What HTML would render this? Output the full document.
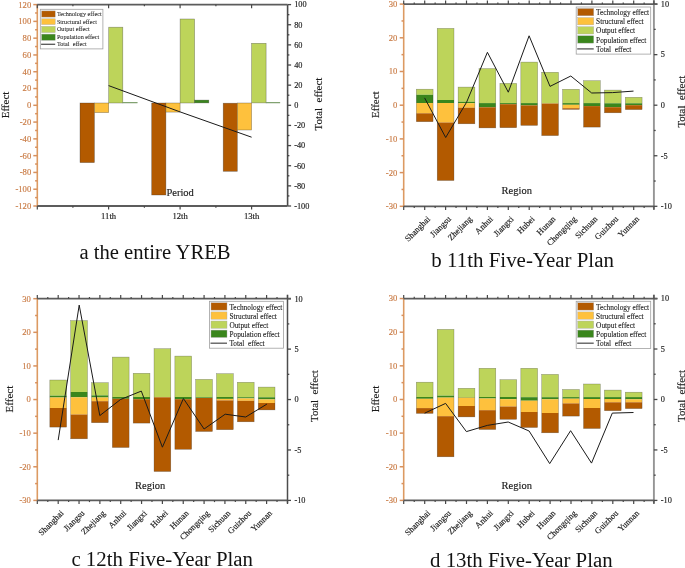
<!DOCTYPE html>
<html><head><meta charset="utf-8"><title>Decomposition charts</title>
<style>html,body{margin:0;padding:0;background:#fff;}body{width:685px;height:568px;overflow:hidden;}svg{display:block;font-family:"Liberation Serif", serif;filter:blur(0.35px);}</style>
</head><body>
<svg width="685" height="568" viewBox="0 0 685 568">
<rect x="0" y="0" width="685" height="568" fill="#fff"/>
<rect x="80" y="103" width="14.4" height="59.6" fill="#b35a00" stroke="rgba(50,50,50,0.5)" stroke-width="0.6"/>
<rect x="94.4" y="103" width="14.3" height="9.6" fill="#fec13d" stroke="rgba(50,50,50,0.5)" stroke-width="0.6"/>
<rect x="108.7" y="27.2" width="14.1" height="75.8" fill="#bdd45a" stroke="rgba(50,50,50,0.5)" stroke-width="0.6"/>
<rect x="122.8" y="102.4" width="14.4" height="0.6" fill="#3a861c" stroke="#7f9c70" stroke-width="0.5"/>
<rect x="151.7" y="103" width="14.2" height="92" fill="#b35a00" stroke="rgba(50,50,50,0.5)" stroke-width="0.6"/>
<rect x="165.9" y="103" width="14.2" height="9.1" fill="#fec13d" stroke="rgba(50,50,50,0.5)" stroke-width="0.6"/>
<rect x="180.1" y="19" width="14.5" height="84" fill="#bdd45a" stroke="rgba(50,50,50,0.5)" stroke-width="0.6"/>
<rect x="194.6" y="100.1" width="14.2" height="2.8" fill="#3a861c" stroke="rgba(50,50,50,0.5)" stroke-width="0.6"/>
<rect x="223.2" y="103.2" width="14.1" height="68.1" fill="#b35a00" stroke="rgba(50,50,50,0.5)" stroke-width="0.6"/>
<rect x="237.3" y="103" width="14.3" height="27" fill="#fec13d" stroke="rgba(50,50,50,0.5)" stroke-width="0.6"/>
<rect x="251.6" y="43.3" width="14.5" height="59.6" fill="#bdd45a" stroke="rgba(50,50,50,0.5)" stroke-width="0.6"/>
<rect x="266.1" y="102.4" width="13.8" height="0.6" fill="#3a861c" stroke="#7f9c70" stroke-width="0.5"/>
<polyline points="108.6,85.6 180.1,111.9 251.6,137.2" fill="none" stroke="#1a1a1a" stroke-width="1.0" stroke-linejoin="miter"/>
<line x1="37.3" y1="4.6" x2="37.3" y2="206" stroke="#dc9a62" stroke-width="1.6"/>
<line x1="33.3" y1="206" x2="37.3" y2="206" stroke="#d8915e" stroke-width="1.5"/>
<line x1="35.1" y1="197.61" x2="37.3" y2="197.61" stroke="#d8915e" stroke-width="1.5"/>
<line x1="33.3" y1="189.22" x2="37.3" y2="189.22" stroke="#d8915e" stroke-width="1.5"/>
<line x1="35.1" y1="180.82" x2="37.3" y2="180.82" stroke="#d8915e" stroke-width="1.5"/>
<line x1="33.3" y1="172.43" x2="37.3" y2="172.43" stroke="#d8915e" stroke-width="1.5"/>
<line x1="35.1" y1="164.04" x2="37.3" y2="164.04" stroke="#d8915e" stroke-width="1.5"/>
<line x1="33.3" y1="155.65" x2="37.3" y2="155.65" stroke="#d8915e" stroke-width="1.5"/>
<line x1="35.1" y1="147.26" x2="37.3" y2="147.26" stroke="#d8915e" stroke-width="1.5"/>
<line x1="33.3" y1="138.87" x2="37.3" y2="138.87" stroke="#d8915e" stroke-width="1.5"/>
<line x1="35.1" y1="130.47" x2="37.3" y2="130.47" stroke="#d8915e" stroke-width="1.5"/>
<line x1="33.3" y1="122.08" x2="37.3" y2="122.08" stroke="#d8915e" stroke-width="1.5"/>
<line x1="35.1" y1="113.69" x2="37.3" y2="113.69" stroke="#d8915e" stroke-width="1.5"/>
<line x1="33.3" y1="105.3" x2="37.3" y2="105.3" stroke="#d8915e" stroke-width="1.5"/>
<line x1="35.1" y1="96.91" x2="37.3" y2="96.91" stroke="#d8915e" stroke-width="1.5"/>
<line x1="33.3" y1="88.52" x2="37.3" y2="88.52" stroke="#d8915e" stroke-width="1.5"/>
<line x1="35.1" y1="80.12" x2="37.3" y2="80.12" stroke="#d8915e" stroke-width="1.5"/>
<line x1="33.3" y1="71.73" x2="37.3" y2="71.73" stroke="#d8915e" stroke-width="1.5"/>
<line x1="35.1" y1="63.34" x2="37.3" y2="63.34" stroke="#d8915e" stroke-width="1.5"/>
<line x1="33.3" y1="54.95" x2="37.3" y2="54.95" stroke="#d8915e" stroke-width="1.5"/>
<line x1="35.1" y1="46.56" x2="37.3" y2="46.56" stroke="#d8915e" stroke-width="1.5"/>
<line x1="33.3" y1="38.17" x2="37.3" y2="38.17" stroke="#d8915e" stroke-width="1.5"/>
<line x1="35.1" y1="29.77" x2="37.3" y2="29.77" stroke="#d8915e" stroke-width="1.5"/>
<line x1="33.3" y1="21.38" x2="37.3" y2="21.38" stroke="#d8915e" stroke-width="1.5"/>
<line x1="35.1" y1="12.99" x2="37.3" y2="12.99" stroke="#d8915e" stroke-width="1.5"/>
<line x1="33.3" y1="4.6" x2="37.3" y2="4.6" stroke="#d8915e" stroke-width="1.5"/>
<line x1="287.6" y1="4.6" x2="287.6" y2="206" stroke="#4a4a4a" stroke-width="1.6"/>
<line x1="287.6" y1="206" x2="291.1" y2="206" stroke="#484848" stroke-width="1.3"/>
<line x1="287.6" y1="195.93" x2="289.4" y2="195.93" stroke="#484848" stroke-width="1.3"/>
<line x1="287.6" y1="185.86" x2="291.1" y2="185.86" stroke="#484848" stroke-width="1.3"/>
<line x1="287.6" y1="175.79" x2="289.4" y2="175.79" stroke="#484848" stroke-width="1.3"/>
<line x1="287.6" y1="165.72" x2="291.1" y2="165.72" stroke="#484848" stroke-width="1.3"/>
<line x1="287.6" y1="155.65" x2="289.4" y2="155.65" stroke="#484848" stroke-width="1.3"/>
<line x1="287.6" y1="145.58" x2="291.1" y2="145.58" stroke="#484848" stroke-width="1.3"/>
<line x1="287.6" y1="135.51" x2="289.4" y2="135.51" stroke="#484848" stroke-width="1.3"/>
<line x1="287.6" y1="125.44" x2="291.1" y2="125.44" stroke="#484848" stroke-width="1.3"/>
<line x1="287.6" y1="115.37" x2="289.4" y2="115.37" stroke="#484848" stroke-width="1.3"/>
<line x1="287.6" y1="105.3" x2="291.1" y2="105.3" stroke="#484848" stroke-width="1.3"/>
<line x1="287.6" y1="95.23" x2="289.4" y2="95.23" stroke="#484848" stroke-width="1.3"/>
<line x1="287.6" y1="85.16" x2="291.1" y2="85.16" stroke="#484848" stroke-width="1.3"/>
<line x1="287.6" y1="75.09" x2="289.4" y2="75.09" stroke="#484848" stroke-width="1.3"/>
<line x1="287.6" y1="65.02" x2="291.1" y2="65.02" stroke="#484848" stroke-width="1.3"/>
<line x1="287.6" y1="54.95" x2="289.4" y2="54.95" stroke="#484848" stroke-width="1.3"/>
<line x1="287.6" y1="44.88" x2="291.1" y2="44.88" stroke="#484848" stroke-width="1.3"/>
<line x1="287.6" y1="34.81" x2="289.4" y2="34.81" stroke="#484848" stroke-width="1.3"/>
<line x1="287.6" y1="24.74" x2="291.1" y2="24.74" stroke="#484848" stroke-width="1.3"/>
<line x1="287.6" y1="14.67" x2="289.4" y2="14.67" stroke="#484848" stroke-width="1.3"/>
<line x1="287.6" y1="4.6" x2="291.1" y2="4.6" stroke="#484848" stroke-width="1.3"/>
<line x1="37.3" y1="4.6" x2="287.6" y2="4.6" stroke="#5c5c5c" stroke-width="1.8"/>
<line x1="37.3" y1="4.6" x2="37.3" y2="8.2" stroke="#484848" stroke-width="1.2"/>
<line x1="108.6" y1="4.6" x2="108.6" y2="8.2" stroke="#484848" stroke-width="1.2"/>
<line x1="180.1" y1="4.6" x2="180.1" y2="8.2" stroke="#484848" stroke-width="1.2"/>
<line x1="251.6" y1="4.6" x2="251.6" y2="8.2" stroke="#484848" stroke-width="1.2"/>
<line x1="72.9" y1="4.6" x2="72.9" y2="6.3" stroke="#484848" stroke-width="1.2"/>
<line x1="144.4" y1="4.6" x2="144.4" y2="6.3" stroke="#484848" stroke-width="1.2"/>
<line x1="215.9" y1="4.6" x2="215.9" y2="6.3" stroke="#484848" stroke-width="1.2"/>
<line x1="37.3" y1="206" x2="287.6" y2="206" stroke="#5c5c5c" stroke-width="1.8"/>
<line x1="37.3" y1="206" x2="37.3" y2="209.6" stroke="#484848" stroke-width="1.2"/>
<line x1="108.6" y1="206" x2="108.6" y2="209.6" stroke="#484848" stroke-width="1.2"/>
<line x1="180.1" y1="206" x2="180.1" y2="209.6" stroke="#484848" stroke-width="1.2"/>
<line x1="251.6" y1="206" x2="251.6" y2="209.6" stroke="#484848" stroke-width="1.2"/>
<line x1="72.9" y1="206" x2="72.9" y2="207.7" stroke="#484848" stroke-width="1.2"/>
<line x1="144.4" y1="206" x2="144.4" y2="207.7" stroke="#484848" stroke-width="1.2"/>
<line x1="215.9" y1="206" x2="215.9" y2="207.7" stroke="#484848" stroke-width="1.2"/>
<rect x="40.3" y="9.3" width="62.6" height="39.6" fill="#ffffff" stroke="#a0a0a0" stroke-width="0.8"/>
<rect x="41.6" y="10.9" width="13.6" height="6.2" fill="#b35a00" stroke="#a8a8a8" stroke-width="0.4"/>
<rect x="41.6" y="18.8" width="13.6" height="5.8" fill="#fec13d" stroke="#a8a8a8" stroke-width="0.4"/>
<rect x="41.6" y="26.3" width="13.6" height="6.3" fill="#bdd45a" stroke="#a8a8a8" stroke-width="0.4"/>
<rect x="41.6" y="34.1" width="13.6" height="6.2" fill="#3a861c" stroke="#a8a8a8" stroke-width="0.4"/>
<line x1="41.1" y1="44.3" x2="55.2" y2="44.3" stroke="#555" stroke-width="1.3"/>
<rect x="416.32" y="89.2" width="16.75" height="5.6" fill="#bdd45a" stroke="none" stroke-width="0"/>
<rect x="416.32" y="94.8" width="16.75" height="8.2" fill="#3a861c" stroke="none" stroke-width="0"/>
<rect x="416.32" y="103" width="16.75" height="10.3" fill="#fec13d" stroke="none" stroke-width="0"/>
<rect x="416.32" y="113.3" width="16.75" height="8.4" fill="#b35a00" stroke="none" stroke-width="0"/>
<rect x="416.32" y="89.2" width="16.75" height="32.5" fill="none" stroke="rgba(50,50,50,0.5)" stroke-width="0.5"/>
<rect x="437.22" y="28.4" width="16.75" height="71.6" fill="#bdd45a" stroke="none" stroke-width="0"/>
<rect x="437.22" y="100" width="16.75" height="3" fill="#3a861c" stroke="none" stroke-width="0"/>
<rect x="437.22" y="103" width="16.75" height="19.5" fill="#fec13d" stroke="none" stroke-width="0"/>
<rect x="437.22" y="122.5" width="16.75" height="58" fill="#b35a00" stroke="none" stroke-width="0"/>
<rect x="437.22" y="28.4" width="16.75" height="152.1" fill="none" stroke="rgba(50,50,50,0.5)" stroke-width="0.5"/>
<rect x="458.12" y="87.1" width="16.75" height="14.7" fill="#bdd45a" stroke="none" stroke-width="0"/>
<rect x="458.12" y="101.8" width="16.75" height="1.4" fill="#3a861c" stroke="none" stroke-width="0"/>
<rect x="458.12" y="103.2" width="16.75" height="4.5" fill="#fec13d" stroke="none" stroke-width="0"/>
<rect x="458.12" y="107.7" width="16.75" height="16.1" fill="#b35a00" stroke="none" stroke-width="0"/>
<rect x="458.12" y="87.1" width="16.75" height="36.7" fill="none" stroke="rgba(50,50,50,0.5)" stroke-width="0.5"/>
<rect x="479.02" y="68.6" width="16.75" height="34.5" fill="#bdd45a" stroke="none" stroke-width="0"/>
<rect x="479.02" y="103.1" width="16.75" height="4.2" fill="#3a861c" stroke="none" stroke-width="0"/>
<rect x="479.02" y="107.3" width="16.75" height="20.6" fill="#b35a00" stroke="none" stroke-width="0"/>
<rect x="479.02" y="68.6" width="16.75" height="59.3" fill="none" stroke="rgba(50,50,50,0.5)" stroke-width="0.5"/>
<rect x="499.92" y="83.4" width="16.75" height="19.7" fill="#bdd45a" stroke="none" stroke-width="0"/>
<rect x="499.92" y="103.1" width="16.75" height="1.1" fill="#3a861c" stroke="none" stroke-width="0"/>
<rect x="499.92" y="104.2" width="16.75" height="23.5" fill="#b35a00" stroke="none" stroke-width="0"/>
<rect x="499.92" y="83.4" width="16.75" height="44.3" fill="none" stroke="rgba(50,50,50,0.5)" stroke-width="0.5"/>
<rect x="520.83" y="62.1" width="16.75" height="41" fill="#bdd45a" stroke="none" stroke-width="0"/>
<rect x="520.83" y="103.1" width="16.75" height="2.3" fill="#3a861c" stroke="none" stroke-width="0"/>
<rect x="520.83" y="105.4" width="16.75" height="20" fill="#b35a00" stroke="none" stroke-width="0"/>
<rect x="520.83" y="62.1" width="16.75" height="63.3" fill="none" stroke="rgba(50,50,50,0.5)" stroke-width="0.5"/>
<rect x="541.73" y="72.3" width="16.75" height="31.2" fill="#bdd45a" stroke="none" stroke-width="0"/>
<rect x="541.73" y="103.5" width="16.75" height="32.1" fill="#b35a00" stroke="none" stroke-width="0"/>
<rect x="541.73" y="72.3" width="16.75" height="63.3" fill="none" stroke="rgba(50,50,50,0.5)" stroke-width="0.5"/>
<rect x="562.62" y="89.3" width="16.75" height="13.8" fill="#bdd45a" stroke="none" stroke-width="0"/>
<rect x="562.62" y="103.1" width="16.75" height="1.7" fill="#3a861c" stroke="none" stroke-width="0"/>
<rect x="562.62" y="104.8" width="16.75" height="3.4" fill="#fec13d" stroke="none" stroke-width="0"/>
<rect x="562.62" y="108.2" width="16.75" height="1.2" fill="#b35a00" stroke="none" stroke-width="0"/>
<rect x="562.62" y="89.3" width="16.75" height="20.1" fill="none" stroke="rgba(50,50,50,0.5)" stroke-width="0.5"/>
<rect x="583.52" y="80.7" width="16.75" height="22.4" fill="#bdd45a" stroke="none" stroke-width="0"/>
<rect x="583.52" y="103.1" width="16.75" height="3" fill="#3a861c" stroke="none" stroke-width="0"/>
<rect x="583.52" y="106.1" width="16.75" height="21" fill="#b35a00" stroke="none" stroke-width="0"/>
<rect x="583.52" y="80.7" width="16.75" height="46.4" fill="none" stroke="rgba(50,50,50,0.5)" stroke-width="0.5"/>
<rect x="604.42" y="90.1" width="16.75" height="13.2" fill="#bdd45a" stroke="none" stroke-width="0"/>
<rect x="604.42" y="103.3" width="16.75" height="3.9" fill="#3a861c" stroke="none" stroke-width="0"/>
<rect x="604.42" y="107.2" width="16.75" height="5.6" fill="#b35a00" stroke="none" stroke-width="0"/>
<rect x="604.42" y="90.1" width="16.75" height="22.7" fill="none" stroke="rgba(50,50,50,0.5)" stroke-width="0.5"/>
<rect x="625.33" y="97.3" width="16.75" height="6" fill="#bdd45a" stroke="none" stroke-width="0"/>
<rect x="625.33" y="103.3" width="16.75" height="1.9" fill="#3a861c" stroke="none" stroke-width="0"/>
<rect x="625.33" y="105.2" width="16.75" height="4.4" fill="#b35a00" stroke="none" stroke-width="0"/>
<rect x="625.33" y="97.3" width="16.75" height="12.3" fill="none" stroke="rgba(50,50,50,0.5)" stroke-width="0.5"/>
<polyline points="424.6,97.9 445.7,137.5 466.6,102.2 487.4,52.3 508.3,92.2 529.1,35.8 550,86.4 570.8,76 591.7,93 612.6,92.6 633.5,91.1" fill="none" stroke="#1a1a1a" stroke-width="1.0" stroke-linejoin="miter"/>
<line x1="403.7" y1="4.1" x2="403.7" y2="206.3" stroke="#dc9a62" stroke-width="1.6"/>
<line x1="399.7" y1="206.3" x2="403.7" y2="206.3" stroke="#d8915e" stroke-width="1.5"/>
<line x1="401.5" y1="189.45" x2="403.7" y2="189.45" stroke="#d8915e" stroke-width="1.5"/>
<line x1="399.7" y1="172.6" x2="403.7" y2="172.6" stroke="#d8915e" stroke-width="1.5"/>
<line x1="401.5" y1="155.75" x2="403.7" y2="155.75" stroke="#d8915e" stroke-width="1.5"/>
<line x1="399.7" y1="138.9" x2="403.7" y2="138.9" stroke="#d8915e" stroke-width="1.5"/>
<line x1="401.5" y1="122.05" x2="403.7" y2="122.05" stroke="#d8915e" stroke-width="1.5"/>
<line x1="399.7" y1="105.2" x2="403.7" y2="105.2" stroke="#d8915e" stroke-width="1.5"/>
<line x1="401.5" y1="88.35" x2="403.7" y2="88.35" stroke="#d8915e" stroke-width="1.5"/>
<line x1="399.7" y1="71.5" x2="403.7" y2="71.5" stroke="#d8915e" stroke-width="1.5"/>
<line x1="401.5" y1="54.65" x2="403.7" y2="54.65" stroke="#d8915e" stroke-width="1.5"/>
<line x1="399.7" y1="37.8" x2="403.7" y2="37.8" stroke="#d8915e" stroke-width="1.5"/>
<line x1="401.5" y1="20.95" x2="403.7" y2="20.95" stroke="#d8915e" stroke-width="1.5"/>
<line x1="399.7" y1="4.1" x2="403.7" y2="4.1" stroke="#d8915e" stroke-width="1.5"/>
<line x1="653.9" y1="0.1" x2="653.9" y2="209.3" stroke="#959595" stroke-width="1.9"/>
<line x1="653.9" y1="206.3" x2="657.4" y2="206.3" stroke="#484848" stroke-width="1.3"/>
<line x1="653.9" y1="181.03" x2="655.7" y2="181.03" stroke="#484848" stroke-width="1.3"/>
<line x1="653.9" y1="155.75" x2="657.4" y2="155.75" stroke="#484848" stroke-width="1.3"/>
<line x1="653.9" y1="130.47" x2="655.7" y2="130.47" stroke="#484848" stroke-width="1.3"/>
<line x1="653.9" y1="105.2" x2="657.4" y2="105.2" stroke="#484848" stroke-width="1.3"/>
<line x1="653.9" y1="79.92" x2="655.7" y2="79.92" stroke="#484848" stroke-width="1.3"/>
<line x1="653.9" y1="54.65" x2="657.4" y2="54.65" stroke="#484848" stroke-width="1.3"/>
<line x1="653.9" y1="29.38" x2="655.7" y2="29.38" stroke="#484848" stroke-width="1.3"/>
<line x1="653.9" y1="4.1" x2="657.4" y2="4.1" stroke="#484848" stroke-width="1.3"/>
<line x1="403.7" y1="4.1" x2="657.4" y2="4.1" stroke="#5c5c5c" stroke-width="1.8"/>
<line x1="403.7" y1="4.1" x2="403.7" y2="0.5" stroke="#484848" stroke-width="1.2"/>
<line x1="424.7" y1="4.1" x2="424.7" y2="0.5" stroke="#484848" stroke-width="1.2"/>
<line x1="445.6" y1="4.1" x2="445.6" y2="0.5" stroke="#484848" stroke-width="1.2"/>
<line x1="466.5" y1="4.1" x2="466.5" y2="0.5" stroke="#484848" stroke-width="1.2"/>
<line x1="487.4" y1="4.1" x2="487.4" y2="0.5" stroke="#484848" stroke-width="1.2"/>
<line x1="508.3" y1="4.1" x2="508.3" y2="0.5" stroke="#484848" stroke-width="1.2"/>
<line x1="529.2" y1="4.1" x2="529.2" y2="0.5" stroke="#484848" stroke-width="1.2"/>
<line x1="550.1" y1="4.1" x2="550.1" y2="0.5" stroke="#484848" stroke-width="1.2"/>
<line x1="571" y1="4.1" x2="571" y2="0.5" stroke="#484848" stroke-width="1.2"/>
<line x1="591.9" y1="4.1" x2="591.9" y2="0.5" stroke="#484848" stroke-width="1.2"/>
<line x1="612.8" y1="4.1" x2="612.8" y2="0.5" stroke="#484848" stroke-width="1.2"/>
<line x1="633.7" y1="4.1" x2="633.7" y2="0.5" stroke="#484848" stroke-width="1.2"/>
<line x1="653.9" y1="4.1" x2="653.9" y2="0.5" stroke="#484848" stroke-width="1.2"/>
<line x1="414.25" y1="4.1" x2="414.25" y2="2.4" stroke="#484848" stroke-width="1.2"/>
<line x1="435.15" y1="4.1" x2="435.15" y2="2.4" stroke="#484848" stroke-width="1.2"/>
<line x1="456.05" y1="4.1" x2="456.05" y2="2.4" stroke="#484848" stroke-width="1.2"/>
<line x1="476.95" y1="4.1" x2="476.95" y2="2.4" stroke="#484848" stroke-width="1.2"/>
<line x1="497.85" y1="4.1" x2="497.85" y2="2.4" stroke="#484848" stroke-width="1.2"/>
<line x1="518.75" y1="4.1" x2="518.75" y2="2.4" stroke="#484848" stroke-width="1.2"/>
<line x1="539.65" y1="4.1" x2="539.65" y2="2.4" stroke="#484848" stroke-width="1.2"/>
<line x1="560.55" y1="4.1" x2="560.55" y2="2.4" stroke="#484848" stroke-width="1.2"/>
<line x1="581.45" y1="4.1" x2="581.45" y2="2.4" stroke="#484848" stroke-width="1.2"/>
<line x1="602.35" y1="4.1" x2="602.35" y2="2.4" stroke="#484848" stroke-width="1.2"/>
<line x1="623.25" y1="4.1" x2="623.25" y2="2.4" stroke="#484848" stroke-width="1.2"/>
<line x1="644.15" y1="4.1" x2="644.15" y2="2.4" stroke="#484848" stroke-width="1.2"/>
<line x1="403.7" y1="206.3" x2="653.9" y2="206.3" stroke="#5c5c5c" stroke-width="1.8"/>
<line x1="403.7" y1="206.3" x2="403.7" y2="209.9" stroke="#484848" stroke-width="1.2"/>
<line x1="424.7" y1="206.3" x2="424.7" y2="209.9" stroke="#484848" stroke-width="1.2"/>
<line x1="445.6" y1="206.3" x2="445.6" y2="209.9" stroke="#484848" stroke-width="1.2"/>
<line x1="466.5" y1="206.3" x2="466.5" y2="209.9" stroke="#484848" stroke-width="1.2"/>
<line x1="487.4" y1="206.3" x2="487.4" y2="209.9" stroke="#484848" stroke-width="1.2"/>
<line x1="508.3" y1="206.3" x2="508.3" y2="209.9" stroke="#484848" stroke-width="1.2"/>
<line x1="529.2" y1="206.3" x2="529.2" y2="209.9" stroke="#484848" stroke-width="1.2"/>
<line x1="550.1" y1="206.3" x2="550.1" y2="209.9" stroke="#484848" stroke-width="1.2"/>
<line x1="571" y1="206.3" x2="571" y2="209.9" stroke="#484848" stroke-width="1.2"/>
<line x1="591.9" y1="206.3" x2="591.9" y2="209.9" stroke="#484848" stroke-width="1.2"/>
<line x1="612.8" y1="206.3" x2="612.8" y2="209.9" stroke="#484848" stroke-width="1.2"/>
<line x1="633.7" y1="206.3" x2="633.7" y2="209.9" stroke="#484848" stroke-width="1.2"/>
<line x1="653.9" y1="206.3" x2="653.9" y2="209.9" stroke="#484848" stroke-width="1.2"/>
<line x1="414.25" y1="206.3" x2="414.25" y2="208" stroke="#484848" stroke-width="1.2"/>
<line x1="435.15" y1="206.3" x2="435.15" y2="208" stroke="#484848" stroke-width="1.2"/>
<line x1="456.05" y1="206.3" x2="456.05" y2="208" stroke="#484848" stroke-width="1.2"/>
<line x1="476.95" y1="206.3" x2="476.95" y2="208" stroke="#484848" stroke-width="1.2"/>
<line x1="497.85" y1="206.3" x2="497.85" y2="208" stroke="#484848" stroke-width="1.2"/>
<line x1="518.75" y1="206.3" x2="518.75" y2="208" stroke="#484848" stroke-width="1.2"/>
<line x1="539.65" y1="206.3" x2="539.65" y2="208" stroke="#484848" stroke-width="1.2"/>
<line x1="560.55" y1="206.3" x2="560.55" y2="208" stroke="#484848" stroke-width="1.2"/>
<line x1="581.45" y1="206.3" x2="581.45" y2="208" stroke="#484848" stroke-width="1.2"/>
<line x1="602.35" y1="206.3" x2="602.35" y2="208" stroke="#484848" stroke-width="1.2"/>
<line x1="623.25" y1="206.3" x2="623.25" y2="208" stroke="#484848" stroke-width="1.2"/>
<line x1="644.15" y1="206.3" x2="644.15" y2="208" stroke="#484848" stroke-width="1.2"/>
<rect x="576.2" y="7" width="74.5" height="47.1" fill="#ffffff" stroke="#a0a0a0" stroke-width="0.8"/>
<rect x="577.7" y="8.5" width="16" height="7.3" fill="#b35a00" stroke="#a8a8a8" stroke-width="0.4"/>
<rect x="577.7" y="17.6" width="16" height="7.3" fill="#fec13d" stroke="#a8a8a8" stroke-width="0.4"/>
<rect x="577.7" y="26.7" width="16" height="7.3" fill="#bdd45a" stroke="#a8a8a8" stroke-width="0.4"/>
<rect x="577.7" y="35.8" width="16" height="7.3" fill="#3a861c" stroke="#a8a8a8" stroke-width="0.4"/>
<line x1="577.2" y1="48.9" x2="593.7" y2="48.9" stroke="#555" stroke-width="1.3"/>
<rect x="49.83" y="380" width="16.75" height="15.7" fill="#bdd45a" stroke="none" stroke-width="0"/>
<rect x="49.83" y="395.7" width="16.75" height="1.8" fill="#3a861c" stroke="none" stroke-width="0"/>
<rect x="49.83" y="397.5" width="16.75" height="10.5" fill="#fec13d" stroke="none" stroke-width="0"/>
<rect x="49.83" y="408" width="16.75" height="19.1" fill="#b35a00" stroke="none" stroke-width="0"/>
<rect x="49.83" y="380" width="16.75" height="47.1" fill="none" stroke="rgba(50,50,50,0.5)" stroke-width="0.5"/>
<rect x="70.67" y="320.6" width="16.75" height="71.4" fill="#bdd45a" stroke="none" stroke-width="0"/>
<rect x="70.67" y="392" width="16.75" height="5.3" fill="#3a861c" stroke="none" stroke-width="0"/>
<rect x="70.67" y="397.3" width="16.75" height="17.2" fill="#fec13d" stroke="none" stroke-width="0"/>
<rect x="70.67" y="414.5" width="16.75" height="24.3" fill="#b35a00" stroke="none" stroke-width="0"/>
<rect x="70.67" y="320.6" width="16.75" height="118.2" fill="none" stroke="rgba(50,50,50,0.5)" stroke-width="0.5"/>
<rect x="91.5" y="382.7" width="16.75" height="12.7" fill="#bdd45a" stroke="none" stroke-width="0"/>
<rect x="91.5" y="395.4" width="16.75" height="2.1" fill="#3a861c" stroke="none" stroke-width="0"/>
<rect x="91.5" y="397.5" width="16.75" height="3.7" fill="#fec13d" stroke="none" stroke-width="0"/>
<rect x="91.5" y="401.2" width="16.75" height="21.5" fill="#b35a00" stroke="none" stroke-width="0"/>
<rect x="91.5" y="382.7" width="16.75" height="40" fill="none" stroke="rgba(50,50,50,0.5)" stroke-width="0.5"/>
<rect x="112.34" y="357.1" width="16.75" height="39.9" fill="#bdd45a" stroke="none" stroke-width="0"/>
<rect x="112.34" y="397" width="16.75" height="1.8" fill="#3a861c" stroke="none" stroke-width="0"/>
<rect x="112.34" y="398.8" width="16.75" height="48.7" fill="#b35a00" stroke="none" stroke-width="0"/>
<rect x="112.34" y="357.1" width="16.75" height="90.4" fill="none" stroke="rgba(50,50,50,0.5)" stroke-width="0.5"/>
<rect x="133.19" y="373.3" width="16.75" height="23.7" fill="#bdd45a" stroke="none" stroke-width="0"/>
<rect x="133.19" y="397" width="16.75" height="2.2" fill="#3a861c" stroke="none" stroke-width="0"/>
<rect x="133.19" y="399.2" width="16.75" height="23.9" fill="#b35a00" stroke="none" stroke-width="0"/>
<rect x="133.19" y="373.3" width="16.75" height="49.8" fill="none" stroke="rgba(50,50,50,0.5)" stroke-width="0.5"/>
<rect x="154.03" y="348.7" width="16.75" height="48.6" fill="#bdd45a" stroke="none" stroke-width="0"/>
<rect x="154.03" y="397.3" width="16.75" height="74.2" fill="#b35a00" stroke="none" stroke-width="0"/>
<rect x="154.03" y="348.7" width="16.75" height="122.8" fill="none" stroke="rgba(50,50,50,0.5)" stroke-width="0.5"/>
<rect x="174.87" y="356.1" width="16.75" height="40.9" fill="#bdd45a" stroke="none" stroke-width="0"/>
<rect x="174.87" y="397" width="16.75" height="2.2" fill="#3a861c" stroke="none" stroke-width="0"/>
<rect x="174.87" y="399.2" width="16.75" height="50.1" fill="#b35a00" stroke="none" stroke-width="0"/>
<rect x="174.87" y="356.1" width="16.75" height="93.2" fill="none" stroke="rgba(50,50,50,0.5)" stroke-width="0.5"/>
<rect x="195.7" y="379.4" width="16.75" height="17.9" fill="#bdd45a" stroke="none" stroke-width="0"/>
<rect x="195.7" y="397.3" width="16.75" height="0.7" fill="#3a861c" stroke="none" stroke-width="0"/>
<rect x="195.7" y="398" width="16.75" height="33.5" fill="#b35a00" stroke="none" stroke-width="0"/>
<rect x="195.7" y="379.4" width="16.75" height="52.1" fill="none" stroke="rgba(50,50,50,0.5)" stroke-width="0.5"/>
<rect x="216.55" y="373.7" width="16.75" height="23.3" fill="#bdd45a" stroke="none" stroke-width="0"/>
<rect x="216.55" y="397" width="16.75" height="1.9" fill="#3a861c" stroke="none" stroke-width="0"/>
<rect x="216.55" y="398.9" width="16.75" height="1.5" fill="#fec13d" stroke="none" stroke-width="0"/>
<rect x="216.55" y="400.4" width="16.75" height="29.3" fill="#b35a00" stroke="none" stroke-width="0"/>
<rect x="216.55" y="373.7" width="16.75" height="56" fill="none" stroke="rgba(50,50,50,0.5)" stroke-width="0.5"/>
<rect x="237.38" y="382.3" width="16.75" height="14.9" fill="#bdd45a" stroke="none" stroke-width="0"/>
<rect x="237.38" y="397.2" width="16.75" height="1.2" fill="#3a861c" stroke="none" stroke-width="0"/>
<rect x="237.38" y="398.4" width="16.75" height="2.4" fill="#fec13d" stroke="none" stroke-width="0"/>
<rect x="237.38" y="400.8" width="16.75" height="21" fill="#b35a00" stroke="none" stroke-width="0"/>
<rect x="237.38" y="382.3" width="16.75" height="39.5" fill="none" stroke="rgba(50,50,50,0.5)" stroke-width="0.5"/>
<rect x="258.23" y="387.1" width="16.75" height="10.2" fill="#bdd45a" stroke="none" stroke-width="0"/>
<rect x="258.23" y="397.3" width="16.75" height="2.1" fill="#3a861c" stroke="none" stroke-width="0"/>
<rect x="258.23" y="399.4" width="16.75" height="3.6" fill="#fec13d" stroke="none" stroke-width="0"/>
<rect x="258.23" y="403" width="16.75" height="6.9" fill="#b35a00" stroke="none" stroke-width="0"/>
<rect x="258.23" y="387.1" width="16.75" height="22.8" fill="none" stroke="rgba(50,50,50,0.5)" stroke-width="0.5"/>
<polyline points="58.2,440.1 79.2,305.1 99.8,415.6 120.5,399.5 141.3,391.1 162.4,447.2 183.4,398.5 204.1,429 225.2,414.2 245.7,417 266.9,404.1" fill="none" stroke="#1a1a1a" stroke-width="1.0" stroke-linejoin="miter"/>
<line x1="37.3" y1="298.7" x2="37.3" y2="500.4" stroke="#dc9a62" stroke-width="1.6"/>
<line x1="33.3" y1="500.4" x2="37.3" y2="500.4" stroke="#d8915e" stroke-width="1.5"/>
<line x1="35.1" y1="483.59" x2="37.3" y2="483.59" stroke="#d8915e" stroke-width="1.5"/>
<line x1="33.3" y1="466.78" x2="37.3" y2="466.78" stroke="#d8915e" stroke-width="1.5"/>
<line x1="35.1" y1="449.97" x2="37.3" y2="449.97" stroke="#d8915e" stroke-width="1.5"/>
<line x1="33.3" y1="433.17" x2="37.3" y2="433.17" stroke="#d8915e" stroke-width="1.5"/>
<line x1="35.1" y1="416.36" x2="37.3" y2="416.36" stroke="#d8915e" stroke-width="1.5"/>
<line x1="33.3" y1="399.55" x2="37.3" y2="399.55" stroke="#d8915e" stroke-width="1.5"/>
<line x1="35.1" y1="382.74" x2="37.3" y2="382.74" stroke="#d8915e" stroke-width="1.5"/>
<line x1="33.3" y1="365.93" x2="37.3" y2="365.93" stroke="#d8915e" stroke-width="1.5"/>
<line x1="35.1" y1="349.12" x2="37.3" y2="349.12" stroke="#d8915e" stroke-width="1.5"/>
<line x1="33.3" y1="332.32" x2="37.3" y2="332.32" stroke="#d8915e" stroke-width="1.5"/>
<line x1="35.1" y1="315.51" x2="37.3" y2="315.51" stroke="#d8915e" stroke-width="1.5"/>
<line x1="33.3" y1="298.7" x2="37.3" y2="298.7" stroke="#d8915e" stroke-width="1.5"/>
<line x1="287.5" y1="294.7" x2="287.5" y2="503.4" stroke="#4d4d4d" stroke-width="1.5"/>
<line x1="287.5" y1="500.4" x2="291" y2="500.4" stroke="#484848" stroke-width="1.3"/>
<line x1="287.5" y1="475.19" x2="289.3" y2="475.19" stroke="#484848" stroke-width="1.3"/>
<line x1="287.5" y1="449.97" x2="291" y2="449.97" stroke="#484848" stroke-width="1.3"/>
<line x1="287.5" y1="424.76" x2="289.3" y2="424.76" stroke="#484848" stroke-width="1.3"/>
<line x1="287.5" y1="399.55" x2="291" y2="399.55" stroke="#484848" stroke-width="1.3"/>
<line x1="287.5" y1="374.34" x2="289.3" y2="374.34" stroke="#484848" stroke-width="1.3"/>
<line x1="287.5" y1="349.12" x2="291" y2="349.12" stroke="#484848" stroke-width="1.3"/>
<line x1="287.5" y1="323.91" x2="289.3" y2="323.91" stroke="#484848" stroke-width="1.3"/>
<line x1="287.5" y1="298.7" x2="291" y2="298.7" stroke="#484848" stroke-width="1.3"/>
<line x1="37.3" y1="298.7" x2="291" y2="298.7" stroke="#5c5c5c" stroke-width="1.8"/>
<line x1="37.3" y1="298.7" x2="37.3" y2="295.1" stroke="#484848" stroke-width="1.2"/>
<line x1="58.2" y1="298.7" x2="58.2" y2="295.1" stroke="#484848" stroke-width="1.2"/>
<line x1="79.04" y1="298.7" x2="79.04" y2="295.1" stroke="#484848" stroke-width="1.2"/>
<line x1="99.88" y1="298.7" x2="99.88" y2="295.1" stroke="#484848" stroke-width="1.2"/>
<line x1="120.72" y1="298.7" x2="120.72" y2="295.1" stroke="#484848" stroke-width="1.2"/>
<line x1="141.56" y1="298.7" x2="141.56" y2="295.1" stroke="#484848" stroke-width="1.2"/>
<line x1="162.4" y1="298.7" x2="162.4" y2="295.1" stroke="#484848" stroke-width="1.2"/>
<line x1="183.24" y1="298.7" x2="183.24" y2="295.1" stroke="#484848" stroke-width="1.2"/>
<line x1="204.08" y1="298.7" x2="204.08" y2="295.1" stroke="#484848" stroke-width="1.2"/>
<line x1="224.92" y1="298.7" x2="224.92" y2="295.1" stroke="#484848" stroke-width="1.2"/>
<line x1="245.76" y1="298.7" x2="245.76" y2="295.1" stroke="#484848" stroke-width="1.2"/>
<line x1="266.6" y1="298.7" x2="266.6" y2="295.1" stroke="#484848" stroke-width="1.2"/>
<line x1="287.5" y1="298.7" x2="287.5" y2="295.1" stroke="#484848" stroke-width="1.2"/>
<line x1="47.78" y1="298.7" x2="47.78" y2="297" stroke="#484848" stroke-width="1.2"/>
<line x1="68.62" y1="298.7" x2="68.62" y2="297" stroke="#484848" stroke-width="1.2"/>
<line x1="89.46" y1="298.7" x2="89.46" y2="297" stroke="#484848" stroke-width="1.2"/>
<line x1="110.3" y1="298.7" x2="110.3" y2="297" stroke="#484848" stroke-width="1.2"/>
<line x1="131.14" y1="298.7" x2="131.14" y2="297" stroke="#484848" stroke-width="1.2"/>
<line x1="151.98" y1="298.7" x2="151.98" y2="297" stroke="#484848" stroke-width="1.2"/>
<line x1="172.82" y1="298.7" x2="172.82" y2="297" stroke="#484848" stroke-width="1.2"/>
<line x1="193.66" y1="298.7" x2="193.66" y2="297" stroke="#484848" stroke-width="1.2"/>
<line x1="214.5" y1="298.7" x2="214.5" y2="297" stroke="#484848" stroke-width="1.2"/>
<line x1="235.34" y1="298.7" x2="235.34" y2="297" stroke="#484848" stroke-width="1.2"/>
<line x1="256.18" y1="298.7" x2="256.18" y2="297" stroke="#484848" stroke-width="1.2"/>
<line x1="277.02" y1="298.7" x2="277.02" y2="297" stroke="#484848" stroke-width="1.2"/>
<line x1="37.3" y1="500.4" x2="287.5" y2="500.4" stroke="#5c5c5c" stroke-width="1.8"/>
<line x1="37.3" y1="500.4" x2="37.3" y2="504" stroke="#484848" stroke-width="1.2"/>
<line x1="58.2" y1="500.4" x2="58.2" y2="504" stroke="#484848" stroke-width="1.2"/>
<line x1="79.04" y1="500.4" x2="79.04" y2="504" stroke="#484848" stroke-width="1.2"/>
<line x1="99.88" y1="500.4" x2="99.88" y2="504" stroke="#484848" stroke-width="1.2"/>
<line x1="120.72" y1="500.4" x2="120.72" y2="504" stroke="#484848" stroke-width="1.2"/>
<line x1="141.56" y1="500.4" x2="141.56" y2="504" stroke="#484848" stroke-width="1.2"/>
<line x1="162.4" y1="500.4" x2="162.4" y2="504" stroke="#484848" stroke-width="1.2"/>
<line x1="183.24" y1="500.4" x2="183.24" y2="504" stroke="#484848" stroke-width="1.2"/>
<line x1="204.08" y1="500.4" x2="204.08" y2="504" stroke="#484848" stroke-width="1.2"/>
<line x1="224.92" y1="500.4" x2="224.92" y2="504" stroke="#484848" stroke-width="1.2"/>
<line x1="245.76" y1="500.4" x2="245.76" y2="504" stroke="#484848" stroke-width="1.2"/>
<line x1="266.6" y1="500.4" x2="266.6" y2="504" stroke="#484848" stroke-width="1.2"/>
<line x1="287.5" y1="500.4" x2="287.5" y2="504" stroke="#484848" stroke-width="1.2"/>
<line x1="47.78" y1="500.4" x2="47.78" y2="502.1" stroke="#484848" stroke-width="1.2"/>
<line x1="68.62" y1="500.4" x2="68.62" y2="502.1" stroke="#484848" stroke-width="1.2"/>
<line x1="89.46" y1="500.4" x2="89.46" y2="502.1" stroke="#484848" stroke-width="1.2"/>
<line x1="110.3" y1="500.4" x2="110.3" y2="502.1" stroke="#484848" stroke-width="1.2"/>
<line x1="131.14" y1="500.4" x2="131.14" y2="502.1" stroke="#484848" stroke-width="1.2"/>
<line x1="151.98" y1="500.4" x2="151.98" y2="502.1" stroke="#484848" stroke-width="1.2"/>
<line x1="172.82" y1="500.4" x2="172.82" y2="502.1" stroke="#484848" stroke-width="1.2"/>
<line x1="193.66" y1="500.4" x2="193.66" y2="502.1" stroke="#484848" stroke-width="1.2"/>
<line x1="214.5" y1="500.4" x2="214.5" y2="502.1" stroke="#484848" stroke-width="1.2"/>
<line x1="235.34" y1="500.4" x2="235.34" y2="502.1" stroke="#484848" stroke-width="1.2"/>
<line x1="256.18" y1="500.4" x2="256.18" y2="502.1" stroke="#484848" stroke-width="1.2"/>
<line x1="277.02" y1="500.4" x2="277.02" y2="502.1" stroke="#484848" stroke-width="1.2"/>
<rect x="209.5" y="301.3" width="73.9" height="46.9" fill="#ffffff" stroke="#a0a0a0" stroke-width="0.8"/>
<rect x="211" y="302.8" width="16" height="7.3" fill="#b35a00" stroke="#a8a8a8" stroke-width="0.4"/>
<rect x="211" y="311.9" width="16" height="7.3" fill="#fec13d" stroke="#a8a8a8" stroke-width="0.4"/>
<rect x="211" y="321" width="16" height="7.3" fill="#bdd45a" stroke="#a8a8a8" stroke-width="0.4"/>
<rect x="211" y="330.1" width="16" height="7.3" fill="#3a861c" stroke="#a8a8a8" stroke-width="0.4"/>
<line x1="210.5" y1="343.2" x2="227" y2="343.2" stroke="#555" stroke-width="1.3"/>
<rect x="416.32" y="382.2" width="16.75" height="14.8" fill="#bdd45a" stroke="none" stroke-width="0"/>
<rect x="416.32" y="397" width="16.75" height="1.8" fill="#3a861c" stroke="none" stroke-width="0"/>
<rect x="416.32" y="398.8" width="16.75" height="9.3" fill="#fec13d" stroke="none" stroke-width="0"/>
<rect x="416.32" y="408.1" width="16.75" height="5.3" fill="#b35a00" stroke="none" stroke-width="0"/>
<rect x="416.32" y="382.2" width="16.75" height="31.2" fill="none" stroke="rgba(50,50,50,0.5)" stroke-width="0.5"/>
<rect x="437.22" y="329.4" width="16.75" height="66.3" fill="#bdd45a" stroke="none" stroke-width="0"/>
<rect x="437.22" y="395.7" width="16.75" height="1.9" fill="#3a861c" stroke="none" stroke-width="0"/>
<rect x="437.22" y="397.6" width="16.75" height="18.6" fill="#fec13d" stroke="none" stroke-width="0"/>
<rect x="437.22" y="416.2" width="16.75" height="40.6" fill="#b35a00" stroke="none" stroke-width="0"/>
<rect x="437.22" y="329.4" width="16.75" height="127.4" fill="none" stroke="rgba(50,50,50,0.5)" stroke-width="0.5"/>
<rect x="458.12" y="388.3" width="16.75" height="8.7" fill="#bdd45a" stroke="none" stroke-width="0"/>
<rect x="458.12" y="397" width="16.75" height="0.6" fill="#3a861c" stroke="none" stroke-width="0"/>
<rect x="458.12" y="397.6" width="16.75" height="8.4" fill="#fec13d" stroke="none" stroke-width="0"/>
<rect x="458.12" y="406" width="16.75" height="10.9" fill="#b35a00" stroke="none" stroke-width="0"/>
<rect x="458.12" y="388.3" width="16.75" height="28.6" fill="none" stroke="rgba(50,50,50,0.5)" stroke-width="0.5"/>
<rect x="479.02" y="368.3" width="16.75" height="28.7" fill="#bdd45a" stroke="none" stroke-width="0"/>
<rect x="479.02" y="397" width="16.75" height="1.5" fill="#3a861c" stroke="none" stroke-width="0"/>
<rect x="479.02" y="398.5" width="16.75" height="11.7" fill="#fec13d" stroke="none" stroke-width="0"/>
<rect x="479.02" y="410.2" width="16.75" height="19.3" fill="#b35a00" stroke="none" stroke-width="0"/>
<rect x="479.02" y="368.3" width="16.75" height="61.2" fill="none" stroke="rgba(50,50,50,0.5)" stroke-width="0.5"/>
<rect x="499.92" y="379.7" width="16.75" height="17.3" fill="#bdd45a" stroke="none" stroke-width="0"/>
<rect x="499.92" y="397" width="16.75" height="2.2" fill="#3a861c" stroke="none" stroke-width="0"/>
<rect x="499.92" y="399.2" width="16.75" height="7.3" fill="#fec13d" stroke="none" stroke-width="0"/>
<rect x="499.92" y="406.5" width="16.75" height="12.8" fill="#b35a00" stroke="none" stroke-width="0"/>
<rect x="499.92" y="379.7" width="16.75" height="39.6" fill="none" stroke="rgba(50,50,50,0.5)" stroke-width="0.5"/>
<rect x="520.83" y="368.3" width="16.75" height="28.9" fill="#bdd45a" stroke="none" stroke-width="0"/>
<rect x="520.83" y="397.2" width="16.75" height="3.5" fill="#3a861c" stroke="none" stroke-width="0"/>
<rect x="520.83" y="400.7" width="16.75" height="11.3" fill="#fec13d" stroke="none" stroke-width="0"/>
<rect x="520.83" y="412" width="16.75" height="15.5" fill="#b35a00" stroke="none" stroke-width="0"/>
<rect x="520.83" y="368.3" width="16.75" height="59.2" fill="none" stroke="rgba(50,50,50,0.5)" stroke-width="0.5"/>
<rect x="541.73" y="374.4" width="16.75" height="22.8" fill="#bdd45a" stroke="none" stroke-width="0"/>
<rect x="541.73" y="397.2" width="16.75" height="2.1" fill="#3a861c" stroke="none" stroke-width="0"/>
<rect x="541.73" y="399.3" width="16.75" height="13.7" fill="#fec13d" stroke="none" stroke-width="0"/>
<rect x="541.73" y="413" width="16.75" height="19.8" fill="#b35a00" stroke="none" stroke-width="0"/>
<rect x="541.73" y="374.4" width="16.75" height="58.4" fill="none" stroke="rgba(50,50,50,0.5)" stroke-width="0.5"/>
<rect x="562.62" y="389.5" width="16.75" height="7.6" fill="#bdd45a" stroke="none" stroke-width="0"/>
<rect x="562.62" y="397.1" width="16.75" height="1.6" fill="#3a861c" stroke="none" stroke-width="0"/>
<rect x="562.62" y="398.7" width="16.75" height="4.7" fill="#fec13d" stroke="none" stroke-width="0"/>
<rect x="562.62" y="403.4" width="16.75" height="12.7" fill="#b35a00" stroke="none" stroke-width="0"/>
<rect x="562.62" y="389.5" width="16.75" height="26.6" fill="none" stroke="rgba(50,50,50,0.5)" stroke-width="0.5"/>
<rect x="583.52" y="384" width="16.75" height="13.1" fill="#bdd45a" stroke="none" stroke-width="0"/>
<rect x="583.52" y="397.1" width="16.75" height="1.9" fill="#3a861c" stroke="none" stroke-width="0"/>
<rect x="583.52" y="399" width="16.75" height="9" fill="#fec13d" stroke="none" stroke-width="0"/>
<rect x="583.52" y="408" width="16.75" height="20.5" fill="#b35a00" stroke="none" stroke-width="0"/>
<rect x="583.52" y="384" width="16.75" height="44.5" fill="none" stroke="rgba(50,50,50,0.5)" stroke-width="0.5"/>
<rect x="604.42" y="390.1" width="16.75" height="7" fill="#bdd45a" stroke="none" stroke-width="0"/>
<rect x="604.42" y="397.1" width="16.75" height="1.9" fill="#3a861c" stroke="none" stroke-width="0"/>
<rect x="604.42" y="399" width="16.75" height="3.3" fill="#fec13d" stroke="none" stroke-width="0"/>
<rect x="604.42" y="402.3" width="16.75" height="8.4" fill="#b35a00" stroke="none" stroke-width="0"/>
<rect x="604.42" y="390.1" width="16.75" height="20.6" fill="none" stroke="rgba(50,50,50,0.5)" stroke-width="0.5"/>
<rect x="625.33" y="392.2" width="16.75" height="4.9" fill="#bdd45a" stroke="none" stroke-width="0"/>
<rect x="625.33" y="397.1" width="16.75" height="2.2" fill="#3a861c" stroke="none" stroke-width="0"/>
<rect x="625.33" y="399.3" width="16.75" height="3" fill="#fec13d" stroke="none" stroke-width="0"/>
<rect x="625.33" y="402.3" width="16.75" height="6.3" fill="#b35a00" stroke="none" stroke-width="0"/>
<rect x="625.33" y="392.2" width="16.75" height="16.4" fill="none" stroke="rgba(50,50,50,0.5)" stroke-width="0.5"/>
<polyline points="424.6,413.2 445.6,403.4 466.4,431.6 487.3,425.4 508.2,422 529.1,431 549.7,463.6 570.6,430.7 591.5,463.1 612.3,413.1 633.5,412.5" fill="none" stroke="#1a1a1a" stroke-width="1.0" stroke-linejoin="miter"/>
<line x1="403.7" y1="298.55" x2="403.7" y2="500.4" stroke="#dc9a62" stroke-width="1.6"/>
<line x1="399.7" y1="500.4" x2="403.7" y2="500.4" stroke="#d8915e" stroke-width="1.5"/>
<line x1="401.5" y1="483.58" x2="403.7" y2="483.58" stroke="#d8915e" stroke-width="1.5"/>
<line x1="399.7" y1="466.76" x2="403.7" y2="466.76" stroke="#d8915e" stroke-width="1.5"/>
<line x1="401.5" y1="449.94" x2="403.7" y2="449.94" stroke="#d8915e" stroke-width="1.5"/>
<line x1="399.7" y1="433.12" x2="403.7" y2="433.12" stroke="#d8915e" stroke-width="1.5"/>
<line x1="401.5" y1="416.3" x2="403.7" y2="416.3" stroke="#d8915e" stroke-width="1.5"/>
<line x1="399.7" y1="399.48" x2="403.7" y2="399.48" stroke="#d8915e" stroke-width="1.5"/>
<line x1="401.5" y1="382.65" x2="403.7" y2="382.65" stroke="#d8915e" stroke-width="1.5"/>
<line x1="399.7" y1="365.83" x2="403.7" y2="365.83" stroke="#d8915e" stroke-width="1.5"/>
<line x1="401.5" y1="349.01" x2="403.7" y2="349.01" stroke="#d8915e" stroke-width="1.5"/>
<line x1="399.7" y1="332.19" x2="403.7" y2="332.19" stroke="#d8915e" stroke-width="1.5"/>
<line x1="401.5" y1="315.37" x2="403.7" y2="315.37" stroke="#d8915e" stroke-width="1.5"/>
<line x1="399.7" y1="298.55" x2="403.7" y2="298.55" stroke="#d8915e" stroke-width="1.5"/>
<line x1="653.9" y1="294.55" x2="653.9" y2="503.4" stroke="#959595" stroke-width="1.9"/>
<line x1="653.9" y1="500.4" x2="657.4" y2="500.4" stroke="#484848" stroke-width="1.3"/>
<line x1="653.9" y1="475.17" x2="655.7" y2="475.17" stroke="#484848" stroke-width="1.3"/>
<line x1="653.9" y1="449.94" x2="657.4" y2="449.94" stroke="#484848" stroke-width="1.3"/>
<line x1="653.9" y1="424.71" x2="655.7" y2="424.71" stroke="#484848" stroke-width="1.3"/>
<line x1="653.9" y1="399.48" x2="657.4" y2="399.48" stroke="#484848" stroke-width="1.3"/>
<line x1="653.9" y1="374.24" x2="655.7" y2="374.24" stroke="#484848" stroke-width="1.3"/>
<line x1="653.9" y1="349.01" x2="657.4" y2="349.01" stroke="#484848" stroke-width="1.3"/>
<line x1="653.9" y1="323.78" x2="655.7" y2="323.78" stroke="#484848" stroke-width="1.3"/>
<line x1="653.9" y1="298.55" x2="657.4" y2="298.55" stroke="#484848" stroke-width="1.3"/>
<line x1="403.7" y1="298.55" x2="657.4" y2="298.55" stroke="#5c5c5c" stroke-width="1.8"/>
<line x1="403.7" y1="298.55" x2="403.7" y2="294.95" stroke="#484848" stroke-width="1.2"/>
<line x1="424.7" y1="298.55" x2="424.7" y2="294.95" stroke="#484848" stroke-width="1.2"/>
<line x1="445.6" y1="298.55" x2="445.6" y2="294.95" stroke="#484848" stroke-width="1.2"/>
<line x1="466.5" y1="298.55" x2="466.5" y2="294.95" stroke="#484848" stroke-width="1.2"/>
<line x1="487.4" y1="298.55" x2="487.4" y2="294.95" stroke="#484848" stroke-width="1.2"/>
<line x1="508.3" y1="298.55" x2="508.3" y2="294.95" stroke="#484848" stroke-width="1.2"/>
<line x1="529.2" y1="298.55" x2="529.2" y2="294.95" stroke="#484848" stroke-width="1.2"/>
<line x1="550.1" y1="298.55" x2="550.1" y2="294.95" stroke="#484848" stroke-width="1.2"/>
<line x1="571" y1="298.55" x2="571" y2="294.95" stroke="#484848" stroke-width="1.2"/>
<line x1="591.9" y1="298.55" x2="591.9" y2="294.95" stroke="#484848" stroke-width="1.2"/>
<line x1="612.8" y1="298.55" x2="612.8" y2="294.95" stroke="#484848" stroke-width="1.2"/>
<line x1="633.7" y1="298.55" x2="633.7" y2="294.95" stroke="#484848" stroke-width="1.2"/>
<line x1="653.9" y1="298.55" x2="653.9" y2="294.95" stroke="#484848" stroke-width="1.2"/>
<line x1="414.25" y1="298.55" x2="414.25" y2="296.85" stroke="#484848" stroke-width="1.2"/>
<line x1="435.15" y1="298.55" x2="435.15" y2="296.85" stroke="#484848" stroke-width="1.2"/>
<line x1="456.05" y1="298.55" x2="456.05" y2="296.85" stroke="#484848" stroke-width="1.2"/>
<line x1="476.95" y1="298.55" x2="476.95" y2="296.85" stroke="#484848" stroke-width="1.2"/>
<line x1="497.85" y1="298.55" x2="497.85" y2="296.85" stroke="#484848" stroke-width="1.2"/>
<line x1="518.75" y1="298.55" x2="518.75" y2="296.85" stroke="#484848" stroke-width="1.2"/>
<line x1="539.65" y1="298.55" x2="539.65" y2="296.85" stroke="#484848" stroke-width="1.2"/>
<line x1="560.55" y1="298.55" x2="560.55" y2="296.85" stroke="#484848" stroke-width="1.2"/>
<line x1="581.45" y1="298.55" x2="581.45" y2="296.85" stroke="#484848" stroke-width="1.2"/>
<line x1="602.35" y1="298.55" x2="602.35" y2="296.85" stroke="#484848" stroke-width="1.2"/>
<line x1="623.25" y1="298.55" x2="623.25" y2="296.85" stroke="#484848" stroke-width="1.2"/>
<line x1="644.15" y1="298.55" x2="644.15" y2="296.85" stroke="#484848" stroke-width="1.2"/>
<line x1="403.7" y1="500.4" x2="653.9" y2="500.4" stroke="#5c5c5c" stroke-width="1.8"/>
<line x1="403.7" y1="500.4" x2="403.7" y2="504" stroke="#484848" stroke-width="1.2"/>
<line x1="424.7" y1="500.4" x2="424.7" y2="504" stroke="#484848" stroke-width="1.2"/>
<line x1="445.6" y1="500.4" x2="445.6" y2="504" stroke="#484848" stroke-width="1.2"/>
<line x1="466.5" y1="500.4" x2="466.5" y2="504" stroke="#484848" stroke-width="1.2"/>
<line x1="487.4" y1="500.4" x2="487.4" y2="504" stroke="#484848" stroke-width="1.2"/>
<line x1="508.3" y1="500.4" x2="508.3" y2="504" stroke="#484848" stroke-width="1.2"/>
<line x1="529.2" y1="500.4" x2="529.2" y2="504" stroke="#484848" stroke-width="1.2"/>
<line x1="550.1" y1="500.4" x2="550.1" y2="504" stroke="#484848" stroke-width="1.2"/>
<line x1="571" y1="500.4" x2="571" y2="504" stroke="#484848" stroke-width="1.2"/>
<line x1="591.9" y1="500.4" x2="591.9" y2="504" stroke="#484848" stroke-width="1.2"/>
<line x1="612.8" y1="500.4" x2="612.8" y2="504" stroke="#484848" stroke-width="1.2"/>
<line x1="633.7" y1="500.4" x2="633.7" y2="504" stroke="#484848" stroke-width="1.2"/>
<line x1="653.9" y1="500.4" x2="653.9" y2="504" stroke="#484848" stroke-width="1.2"/>
<line x1="414.25" y1="500.4" x2="414.25" y2="502.1" stroke="#484848" stroke-width="1.2"/>
<line x1="435.15" y1="500.4" x2="435.15" y2="502.1" stroke="#484848" stroke-width="1.2"/>
<line x1="456.05" y1="500.4" x2="456.05" y2="502.1" stroke="#484848" stroke-width="1.2"/>
<line x1="476.95" y1="500.4" x2="476.95" y2="502.1" stroke="#484848" stroke-width="1.2"/>
<line x1="497.85" y1="500.4" x2="497.85" y2="502.1" stroke="#484848" stroke-width="1.2"/>
<line x1="518.75" y1="500.4" x2="518.75" y2="502.1" stroke="#484848" stroke-width="1.2"/>
<line x1="539.65" y1="500.4" x2="539.65" y2="502.1" stroke="#484848" stroke-width="1.2"/>
<line x1="560.55" y1="500.4" x2="560.55" y2="502.1" stroke="#484848" stroke-width="1.2"/>
<line x1="581.45" y1="500.4" x2="581.45" y2="502.1" stroke="#484848" stroke-width="1.2"/>
<line x1="602.35" y1="500.4" x2="602.35" y2="502.1" stroke="#484848" stroke-width="1.2"/>
<line x1="623.25" y1="500.4" x2="623.25" y2="502.1" stroke="#484848" stroke-width="1.2"/>
<line x1="644.15" y1="500.4" x2="644.15" y2="502.1" stroke="#484848" stroke-width="1.2"/>
<rect x="576.2" y="301.3" width="74.5" height="47.1" fill="#ffffff" stroke="#a0a0a0" stroke-width="0.8"/>
<rect x="577.7" y="302.8" width="16" height="7.3" fill="#b35a00" stroke="#a8a8a8" stroke-width="0.4"/>
<rect x="577.7" y="311.9" width="16" height="7.3" fill="#fec13d" stroke="#a8a8a8" stroke-width="0.4"/>
<rect x="577.7" y="321" width="16" height="7.3" fill="#bdd45a" stroke="#a8a8a8" stroke-width="0.4"/>
<rect x="577.7" y="330.1" width="16" height="7.3" fill="#3a861c" stroke="#a8a8a8" stroke-width="0.4"/>
<line x1="577.2" y1="343.2" x2="593.7" y2="343.2" stroke="#555" stroke-width="1.3"/>
<g opacity="0.995">
<text x="31.2" y="208.92" font-size="8.6" fill="#c97a44" stroke="#c97a44" stroke-width="0.16" text-anchor="end">-120</text>
<text x="31.2" y="192.14" font-size="8.6" fill="#c97a44" stroke="#c97a44" stroke-width="0.16" text-anchor="end">-100</text>
<text x="31.2" y="175.36" font-size="8.6" fill="#c97a44" stroke="#c97a44" stroke-width="0.16" text-anchor="end">-80</text>
<text x="31.2" y="158.57" font-size="8.6" fill="#c97a44" stroke="#c97a44" stroke-width="0.16" text-anchor="end">-60</text>
<text x="31.2" y="141.79" font-size="8.6" fill="#c97a44" stroke="#c97a44" stroke-width="0.16" text-anchor="end">-40</text>
<text x="31.2" y="125.01" font-size="8.6" fill="#c97a44" stroke="#c97a44" stroke-width="0.16" text-anchor="end">-20</text>
<text x="31.2" y="108.22" font-size="8.6" fill="#c97a44" stroke="#c97a44" stroke-width="0.16" text-anchor="end">0</text>
<text x="31.2" y="91.44" font-size="8.6" fill="#c97a44" stroke="#c97a44" stroke-width="0.16" text-anchor="end">20</text>
<text x="31.2" y="74.66" font-size="8.6" fill="#c97a44" stroke="#c97a44" stroke-width="0.16" text-anchor="end">40</text>
<text x="31.2" y="57.87" font-size="8.6" fill="#c97a44" stroke="#c97a44" stroke-width="0.16" text-anchor="end">60</text>
<text x="31.2" y="41.09" font-size="8.6" fill="#c97a44" stroke="#c97a44" stroke-width="0.16" text-anchor="end">80</text>
<text x="31.2" y="24.31" font-size="8.6" fill="#c97a44" stroke="#c97a44" stroke-width="0.16" text-anchor="end">100</text>
<text x="31.2" y="7.52" font-size="8.6" fill="#c97a44" stroke="#c97a44" stroke-width="0.16" text-anchor="end">120</text>
<text x="294.2" y="208.82" font-size="8.3" fill="#1a1a1a" stroke="#1a1a1a" stroke-width="0.16" text-anchor="start">-100</text>
<text x="294.2" y="188.68" font-size="8.3" fill="#1a1a1a" stroke="#1a1a1a" stroke-width="0.16" text-anchor="start">-80</text>
<text x="294.2" y="168.54" font-size="8.3" fill="#1a1a1a" stroke="#1a1a1a" stroke-width="0.16" text-anchor="start">-60</text>
<text x="294.2" y="148.4" font-size="8.3" fill="#1a1a1a" stroke="#1a1a1a" stroke-width="0.16" text-anchor="start">-40</text>
<text x="294.2" y="128.26" font-size="8.3" fill="#1a1a1a" stroke="#1a1a1a" stroke-width="0.16" text-anchor="start">-20</text>
<text x="294.2" y="108.12" font-size="8.3" fill="#1a1a1a" stroke="#1a1a1a" stroke-width="0.16" text-anchor="start">0</text>
<text x="294.2" y="87.98" font-size="8.3" fill="#1a1a1a" stroke="#1a1a1a" stroke-width="0.16" text-anchor="start">20</text>
<text x="294.2" y="67.84" font-size="8.3" fill="#1a1a1a" stroke="#1a1a1a" stroke-width="0.16" text-anchor="start">40</text>
<text x="294.2" y="47.7" font-size="8.3" fill="#1a1a1a" stroke="#1a1a1a" stroke-width="0.16" text-anchor="start">60</text>
<text x="294.2" y="27.56" font-size="8.3" fill="#1a1a1a" stroke="#1a1a1a" stroke-width="0.16" text-anchor="start">80</text>
<text x="294.2" y="7.42" font-size="8.3" fill="#1a1a1a" stroke="#1a1a1a" stroke-width="0.16" text-anchor="start">100</text>
<text x="108.6" y="219" font-size="8.6" fill="#1a1a1a" stroke="#1a1a1a" stroke-width="0.16" text-anchor="middle">11th</text>
<text x="180.1" y="219" font-size="8.6" fill="#1a1a1a" stroke="#1a1a1a" stroke-width="0.16" text-anchor="middle">12th</text>
<text x="251.6" y="219" font-size="8.6" fill="#1a1a1a" stroke="#1a1a1a" stroke-width="0.16" text-anchor="middle">13th</text>
<text x="166.4" y="196.3" font-size="10.5" fill="#1a1a1a" stroke="#1a1a1a" stroke-width="0.16" text-anchor="start">Period</text>
<text x="8.8" y="105" font-size="11" fill="#1a1a1a" stroke="#1a1a1a" stroke-width="0.16" text-anchor="middle" transform="rotate(-90 8.8 105)">Effect</text>
<text x="322.2" y="104" font-size="11" fill="#1a1a1a" stroke="#1a1a1a" stroke-width="0.16" text-anchor="middle" transform="rotate(-90 322.2 104)">Total&#160; effect</text>
<text x="56.9" y="16.25" font-size="6.2" fill="#1a1a1a" stroke="#1a1a1a" stroke-width="0.05" text-anchor="start" textLength="44.73" lengthAdjust="spacingAndGlyphs">Technology effect</text>
<text x="56.9" y="23.65" font-size="6.2" fill="#1a1a1a" stroke="#1a1a1a" stroke-width="0.05" text-anchor="start" textLength="39.99" lengthAdjust="spacingAndGlyphs">Structural effect</text>
<text x="56.9" y="31.35" font-size="6.2" fill="#1a1a1a" stroke="#1a1a1a" stroke-width="0.05" text-anchor="start" textLength="32.77" lengthAdjust="spacingAndGlyphs">Output effect</text>
<text x="56.9" y="38.95" font-size="6.2" fill="#1a1a1a" stroke="#1a1a1a" stroke-width="0.05" text-anchor="start" textLength="42.41" lengthAdjust="spacingAndGlyphs">Population effect</text>
<text x="56.9" y="46.35" font-size="6.2" fill="#1a1a1a" stroke="#1a1a1a" stroke-width="0.05" text-anchor="start" textLength="29.75" lengthAdjust="spacingAndGlyphs">Total&#160; effect</text>
<text x="79.4" y="258.6" font-size="20" fill="#111" stroke="#111" stroke-width="0" text-anchor="start" textLength="151.2" lengthAdjust="spacingAndGlyphs">a the entire YREB</text>
<text x="397.3" y="209.22" font-size="8.6" fill="#c97a44" stroke="#c97a44" stroke-width="0.16" text-anchor="end">-30</text>
<text x="397.3" y="175.52" font-size="8.6" fill="#c97a44" stroke="#c97a44" stroke-width="0.16" text-anchor="end">-20</text>
<text x="397.3" y="141.82" font-size="8.6" fill="#c97a44" stroke="#c97a44" stroke-width="0.16" text-anchor="end">-10</text>
<text x="397.3" y="108.12" font-size="8.6" fill="#c97a44" stroke="#c97a44" stroke-width="0.16" text-anchor="end">0</text>
<text x="397.3" y="74.42" font-size="8.6" fill="#c97a44" stroke="#c97a44" stroke-width="0.16" text-anchor="end">10</text>
<text x="397.3" y="40.72" font-size="8.6" fill="#c97a44" stroke="#c97a44" stroke-width="0.16" text-anchor="end">20</text>
<text x="397.3" y="7.02" font-size="8.6" fill="#c97a44" stroke="#c97a44" stroke-width="0.16" text-anchor="end">30</text>
<text x="660.8" y="209.12" font-size="8.3" fill="#1a1a1a" stroke="#1a1a1a" stroke-width="0.16" text-anchor="start">-10</text>
<text x="660.8" y="158.57" font-size="8.3" fill="#1a1a1a" stroke="#1a1a1a" stroke-width="0.16" text-anchor="start">-5</text>
<text x="660.8" y="108.02" font-size="8.3" fill="#1a1a1a" stroke="#1a1a1a" stroke-width="0.16" text-anchor="start">0</text>
<text x="660.8" y="57.47" font-size="8.3" fill="#1a1a1a" stroke="#1a1a1a" stroke-width="0.16" text-anchor="start">5</text>
<text x="660.8" y="6.92" font-size="8.3" fill="#1a1a1a" stroke="#1a1a1a" stroke-width="0.16" text-anchor="start">10</text>
<text x="430.7" y="219.6" font-size="8.5" fill="#1a1a1a" stroke="#1a1a1a" stroke-width="0.16" text-anchor="end" transform="rotate(-45 430.7 219.6)">Shanghai</text>
<text x="451.6" y="219.6" font-size="8.5" fill="#1a1a1a" stroke="#1a1a1a" stroke-width="0.16" text-anchor="end" transform="rotate(-45 451.6 219.6)">Jiangsu</text>
<text x="472.5" y="219.6" font-size="8.5" fill="#1a1a1a" stroke="#1a1a1a" stroke-width="0.16" text-anchor="end" transform="rotate(-45 472.5 219.6)">Zhejiang</text>
<text x="493.4" y="219.6" font-size="8.5" fill="#1a1a1a" stroke="#1a1a1a" stroke-width="0.16" text-anchor="end" transform="rotate(-45 493.4 219.6)">Anhui</text>
<text x="514.3" y="219.6" font-size="8.5" fill="#1a1a1a" stroke="#1a1a1a" stroke-width="0.16" text-anchor="end" transform="rotate(-45 514.3 219.6)">Jiangxi</text>
<text x="535.2" y="219.6" font-size="8.5" fill="#1a1a1a" stroke="#1a1a1a" stroke-width="0.16" text-anchor="end" transform="rotate(-45 535.2 219.6)">Hubei</text>
<text x="556.1" y="219.6" font-size="8.5" fill="#1a1a1a" stroke="#1a1a1a" stroke-width="0.16" text-anchor="end" transform="rotate(-45 556.1 219.6)">Hunan</text>
<text x="577" y="219.6" font-size="8.5" fill="#1a1a1a" stroke="#1a1a1a" stroke-width="0.16" text-anchor="end" transform="rotate(-45 577 219.6)">Chongqing</text>
<text x="597.9" y="219.6" font-size="8.5" fill="#1a1a1a" stroke="#1a1a1a" stroke-width="0.16" text-anchor="end" transform="rotate(-45 597.9 219.6)">Sichuan</text>
<text x="618.8" y="219.6" font-size="8.5" fill="#1a1a1a" stroke="#1a1a1a" stroke-width="0.16" text-anchor="end" transform="rotate(-45 618.8 219.6)">Guizhou</text>
<text x="639.7" y="219.6" font-size="8.5" fill="#1a1a1a" stroke="#1a1a1a" stroke-width="0.16" text-anchor="end" transform="rotate(-45 639.7 219.6)">Yunnan</text>
<text x="501.6" y="194.4" font-size="10.5" fill="#1a1a1a" stroke="#1a1a1a" stroke-width="0.16" text-anchor="start">Region</text>
<text x="379.4" y="104.7" font-size="11" fill="#1a1a1a" stroke="#1a1a1a" stroke-width="0.16" text-anchor="middle" transform="rotate(-90 379.4 104.7)">Effect</text>
<text x="684.9" y="101.7" font-size="10.8" fill="#1a1a1a" stroke="#1a1a1a" stroke-width="0.16" text-anchor="middle" transform="rotate(-90 684.9 101.7)">Total&#160; effect</text>
<text x="596.1" y="15.21" font-size="7.3" fill="#1a1a1a" stroke="#1a1a1a" stroke-width="0.1" text-anchor="start" textLength="53.02" lengthAdjust="spacingAndGlyphs">Technology effect</text>
<text x="596.1" y="24.31" font-size="7.3" fill="#1a1a1a" stroke="#1a1a1a" stroke-width="0.1" text-anchor="start" textLength="47.41" lengthAdjust="spacingAndGlyphs">Structural effect</text>
<text x="596.1" y="33.41" font-size="7.3" fill="#1a1a1a" stroke="#1a1a1a" stroke-width="0.1" text-anchor="start" textLength="38.85" lengthAdjust="spacingAndGlyphs">Output effect</text>
<text x="596.1" y="42.51" font-size="7.3" fill="#1a1a1a" stroke="#1a1a1a" stroke-width="0.1" text-anchor="start" textLength="50.28" lengthAdjust="spacingAndGlyphs">Population effect</text>
<text x="596.1" y="51.81" font-size="7.3" fill="#1a1a1a" stroke="#1a1a1a" stroke-width="0.1" text-anchor="start" textLength="35.26" lengthAdjust="spacingAndGlyphs">Total&#160; effect</text>
<text x="431.3" y="266.7" font-size="20" fill="#111" stroke="#111" stroke-width="0" text-anchor="start" textLength="182.6" lengthAdjust="spacingAndGlyphs">b 11th Five-Year Plan</text>
<text x="30.9" y="503.32" font-size="8.6" fill="#c97a44" stroke="#c97a44" stroke-width="0.16" text-anchor="end">-30</text>
<text x="30.9" y="469.71" font-size="8.6" fill="#c97a44" stroke="#c97a44" stroke-width="0.16" text-anchor="end">-20</text>
<text x="30.9" y="436.09" font-size="8.6" fill="#c97a44" stroke="#c97a44" stroke-width="0.16" text-anchor="end">-10</text>
<text x="30.9" y="402.47" font-size="8.6" fill="#c97a44" stroke="#c97a44" stroke-width="0.16" text-anchor="end">0</text>
<text x="30.9" y="368.86" font-size="8.6" fill="#c97a44" stroke="#c97a44" stroke-width="0.16" text-anchor="end">10</text>
<text x="30.9" y="335.24" font-size="8.6" fill="#c97a44" stroke="#c97a44" stroke-width="0.16" text-anchor="end">20</text>
<text x="30.9" y="301.62" font-size="8.6" fill="#c97a44" stroke="#c97a44" stroke-width="0.16" text-anchor="end">30</text>
<text x="294.4" y="503.22" font-size="8.3" fill="#1a1a1a" stroke="#1a1a1a" stroke-width="0.16" text-anchor="start">-10</text>
<text x="294.4" y="452.8" font-size="8.3" fill="#1a1a1a" stroke="#1a1a1a" stroke-width="0.16" text-anchor="start">-5</text>
<text x="294.4" y="402.37" font-size="8.3" fill="#1a1a1a" stroke="#1a1a1a" stroke-width="0.16" text-anchor="start">0</text>
<text x="294.4" y="351.95" font-size="8.3" fill="#1a1a1a" stroke="#1a1a1a" stroke-width="0.16" text-anchor="start">5</text>
<text x="294.4" y="301.52" font-size="8.3" fill="#1a1a1a" stroke="#1a1a1a" stroke-width="0.16" text-anchor="start">10</text>
<text x="64.2" y="513.7" font-size="8.5" fill="#1a1a1a" stroke="#1a1a1a" stroke-width="0.16" text-anchor="end" transform="rotate(-45 64.2 513.7)">Shanghai</text>
<text x="85.04" y="513.7" font-size="8.5" fill="#1a1a1a" stroke="#1a1a1a" stroke-width="0.16" text-anchor="end" transform="rotate(-45 85.04 513.7)">Jiangsu</text>
<text x="105.88" y="513.7" font-size="8.5" fill="#1a1a1a" stroke="#1a1a1a" stroke-width="0.16" text-anchor="end" transform="rotate(-45 105.88 513.7)">Zhejiang</text>
<text x="126.72" y="513.7" font-size="8.5" fill="#1a1a1a" stroke="#1a1a1a" stroke-width="0.16" text-anchor="end" transform="rotate(-45 126.72 513.7)">Anhui</text>
<text x="147.56" y="513.7" font-size="8.5" fill="#1a1a1a" stroke="#1a1a1a" stroke-width="0.16" text-anchor="end" transform="rotate(-45 147.56 513.7)">Jiangxi</text>
<text x="168.4" y="513.7" font-size="8.5" fill="#1a1a1a" stroke="#1a1a1a" stroke-width="0.16" text-anchor="end" transform="rotate(-45 168.4 513.7)">Hubei</text>
<text x="189.24" y="513.7" font-size="8.5" fill="#1a1a1a" stroke="#1a1a1a" stroke-width="0.16" text-anchor="end" transform="rotate(-45 189.24 513.7)">Hunan</text>
<text x="210.08" y="513.7" font-size="8.5" fill="#1a1a1a" stroke="#1a1a1a" stroke-width="0.16" text-anchor="end" transform="rotate(-45 210.08 513.7)">Chongqing</text>
<text x="230.92" y="513.7" font-size="8.5" fill="#1a1a1a" stroke="#1a1a1a" stroke-width="0.16" text-anchor="end" transform="rotate(-45 230.92 513.7)">Sichuan</text>
<text x="251.76" y="513.7" font-size="8.5" fill="#1a1a1a" stroke="#1a1a1a" stroke-width="0.16" text-anchor="end" transform="rotate(-45 251.76 513.7)">Guizhou</text>
<text x="272.6" y="513.7" font-size="8.5" fill="#1a1a1a" stroke="#1a1a1a" stroke-width="0.16" text-anchor="end" transform="rotate(-45 272.6 513.7)">Yunnan</text>
<text x="135" y="488.5" font-size="10.5" fill="#1a1a1a" stroke="#1a1a1a" stroke-width="0.16" text-anchor="start">Region</text>
<text x="13" y="399.05" font-size="11" fill="#1a1a1a" stroke="#1a1a1a" stroke-width="0.16" text-anchor="middle" transform="rotate(-90 13 399.05)">Effect</text>
<text x="318.5" y="396.05" font-size="10.8" fill="#1a1a1a" stroke="#1a1a1a" stroke-width="0.16" text-anchor="middle" transform="rotate(-90 318.5 396.05)">Total&#160; effect</text>
<text x="229.4" y="309.51" font-size="7.3" fill="#1a1a1a" stroke="#1a1a1a" stroke-width="0.1" text-anchor="start" textLength="53.02" lengthAdjust="spacingAndGlyphs">Technology effect</text>
<text x="229.4" y="318.61" font-size="7.3" fill="#1a1a1a" stroke="#1a1a1a" stroke-width="0.1" text-anchor="start" textLength="47.41" lengthAdjust="spacingAndGlyphs">Structural effect</text>
<text x="229.4" y="327.71" font-size="7.3" fill="#1a1a1a" stroke="#1a1a1a" stroke-width="0.1" text-anchor="start" textLength="38.85" lengthAdjust="spacingAndGlyphs">Output effect</text>
<text x="229.4" y="336.81" font-size="7.3" fill="#1a1a1a" stroke="#1a1a1a" stroke-width="0.1" text-anchor="start" textLength="50.28" lengthAdjust="spacingAndGlyphs">Population effect</text>
<text x="229.4" y="346.11" font-size="7.3" fill="#1a1a1a" stroke="#1a1a1a" stroke-width="0.1" text-anchor="start" textLength="35.26" lengthAdjust="spacingAndGlyphs">Total&#160; effect</text>
<text x="71.4" y="565.8" font-size="20" fill="#111" stroke="#111" stroke-width="0" text-anchor="start" textLength="181.6" lengthAdjust="spacingAndGlyphs">c 12th Five-Year Plan</text>
<text x="397.3" y="503.32" font-size="8.6" fill="#c97a44" stroke="#c97a44" stroke-width="0.16" text-anchor="end">-30</text>
<text x="397.3" y="469.68" font-size="8.6" fill="#c97a44" stroke="#c97a44" stroke-width="0.16" text-anchor="end">-20</text>
<text x="397.3" y="436.04" font-size="8.6" fill="#c97a44" stroke="#c97a44" stroke-width="0.16" text-anchor="end">-10</text>
<text x="397.3" y="402.4" font-size="8.6" fill="#c97a44" stroke="#c97a44" stroke-width="0.16" text-anchor="end">0</text>
<text x="397.3" y="368.76" font-size="8.6" fill="#c97a44" stroke="#c97a44" stroke-width="0.16" text-anchor="end">10</text>
<text x="397.3" y="335.12" font-size="8.6" fill="#c97a44" stroke="#c97a44" stroke-width="0.16" text-anchor="end">20</text>
<text x="397.3" y="301.47" font-size="8.6" fill="#c97a44" stroke="#c97a44" stroke-width="0.16" text-anchor="end">30</text>
<text x="660.8" y="503.22" font-size="8.3" fill="#1a1a1a" stroke="#1a1a1a" stroke-width="0.16" text-anchor="start">-10</text>
<text x="660.8" y="452.76" font-size="8.3" fill="#1a1a1a" stroke="#1a1a1a" stroke-width="0.16" text-anchor="start">-5</text>
<text x="660.8" y="402.3" font-size="8.3" fill="#1a1a1a" stroke="#1a1a1a" stroke-width="0.16" text-anchor="start">0</text>
<text x="660.8" y="351.83" font-size="8.3" fill="#1a1a1a" stroke="#1a1a1a" stroke-width="0.16" text-anchor="start">5</text>
<text x="660.8" y="301.37" font-size="8.3" fill="#1a1a1a" stroke="#1a1a1a" stroke-width="0.16" text-anchor="start">10</text>
<text x="430.7" y="513.7" font-size="8.5" fill="#1a1a1a" stroke="#1a1a1a" stroke-width="0.16" text-anchor="end" transform="rotate(-45 430.7 513.7)">Shanghai</text>
<text x="451.6" y="513.7" font-size="8.5" fill="#1a1a1a" stroke="#1a1a1a" stroke-width="0.16" text-anchor="end" transform="rotate(-45 451.6 513.7)">Jiangsu</text>
<text x="472.5" y="513.7" font-size="8.5" fill="#1a1a1a" stroke="#1a1a1a" stroke-width="0.16" text-anchor="end" transform="rotate(-45 472.5 513.7)">Zhejiang</text>
<text x="493.4" y="513.7" font-size="8.5" fill="#1a1a1a" stroke="#1a1a1a" stroke-width="0.16" text-anchor="end" transform="rotate(-45 493.4 513.7)">Anhui</text>
<text x="514.3" y="513.7" font-size="8.5" fill="#1a1a1a" stroke="#1a1a1a" stroke-width="0.16" text-anchor="end" transform="rotate(-45 514.3 513.7)">Jiangxi</text>
<text x="535.2" y="513.7" font-size="8.5" fill="#1a1a1a" stroke="#1a1a1a" stroke-width="0.16" text-anchor="end" transform="rotate(-45 535.2 513.7)">Hubei</text>
<text x="556.1" y="513.7" font-size="8.5" fill="#1a1a1a" stroke="#1a1a1a" stroke-width="0.16" text-anchor="end" transform="rotate(-45 556.1 513.7)">Hunan</text>
<text x="577" y="513.7" font-size="8.5" fill="#1a1a1a" stroke="#1a1a1a" stroke-width="0.16" text-anchor="end" transform="rotate(-45 577 513.7)">Chongqing</text>
<text x="597.9" y="513.7" font-size="8.5" fill="#1a1a1a" stroke="#1a1a1a" stroke-width="0.16" text-anchor="end" transform="rotate(-45 597.9 513.7)">Sichuan</text>
<text x="618.8" y="513.7" font-size="8.5" fill="#1a1a1a" stroke="#1a1a1a" stroke-width="0.16" text-anchor="end" transform="rotate(-45 618.8 513.7)">Guizhou</text>
<text x="639.7" y="513.7" font-size="8.5" fill="#1a1a1a" stroke="#1a1a1a" stroke-width="0.16" text-anchor="end" transform="rotate(-45 639.7 513.7)">Yunnan</text>
<text x="501.6" y="488.5" font-size="10.5" fill="#1a1a1a" stroke="#1a1a1a" stroke-width="0.16" text-anchor="start">Region</text>
<text x="379.4" y="398.98" font-size="11" fill="#1a1a1a" stroke="#1a1a1a" stroke-width="0.16" text-anchor="middle" transform="rotate(-90 379.4 398.98)">Effect</text>
<text x="684.9" y="395.98" font-size="10.8" fill="#1a1a1a" stroke="#1a1a1a" stroke-width="0.16" text-anchor="middle" transform="rotate(-90 684.9 395.98)">Total&#160; effect</text>
<text x="596.1" y="309.51" font-size="7.3" fill="#1a1a1a" stroke="#1a1a1a" stroke-width="0.1" text-anchor="start" textLength="53.02" lengthAdjust="spacingAndGlyphs">Technology effect</text>
<text x="596.1" y="318.61" font-size="7.3" fill="#1a1a1a" stroke="#1a1a1a" stroke-width="0.1" text-anchor="start" textLength="47.41" lengthAdjust="spacingAndGlyphs">Structural effect</text>
<text x="596.1" y="327.71" font-size="7.3" fill="#1a1a1a" stroke="#1a1a1a" stroke-width="0.1" text-anchor="start" textLength="38.85" lengthAdjust="spacingAndGlyphs">Output effect</text>
<text x="596.1" y="336.81" font-size="7.3" fill="#1a1a1a" stroke="#1a1a1a" stroke-width="0.1" text-anchor="start" textLength="50.28" lengthAdjust="spacingAndGlyphs">Population effect</text>
<text x="596.1" y="346.11" font-size="7.3" fill="#1a1a1a" stroke="#1a1a1a" stroke-width="0.1" text-anchor="start" textLength="35.26" lengthAdjust="spacingAndGlyphs">Total&#160; effect</text>
<text x="430" y="566.5" font-size="20" fill="#111" stroke="#111" stroke-width="0" text-anchor="start" textLength="182.6" lengthAdjust="spacingAndGlyphs">d 13th Five-Year Plan</text>
</g>
</svg></body></html>
